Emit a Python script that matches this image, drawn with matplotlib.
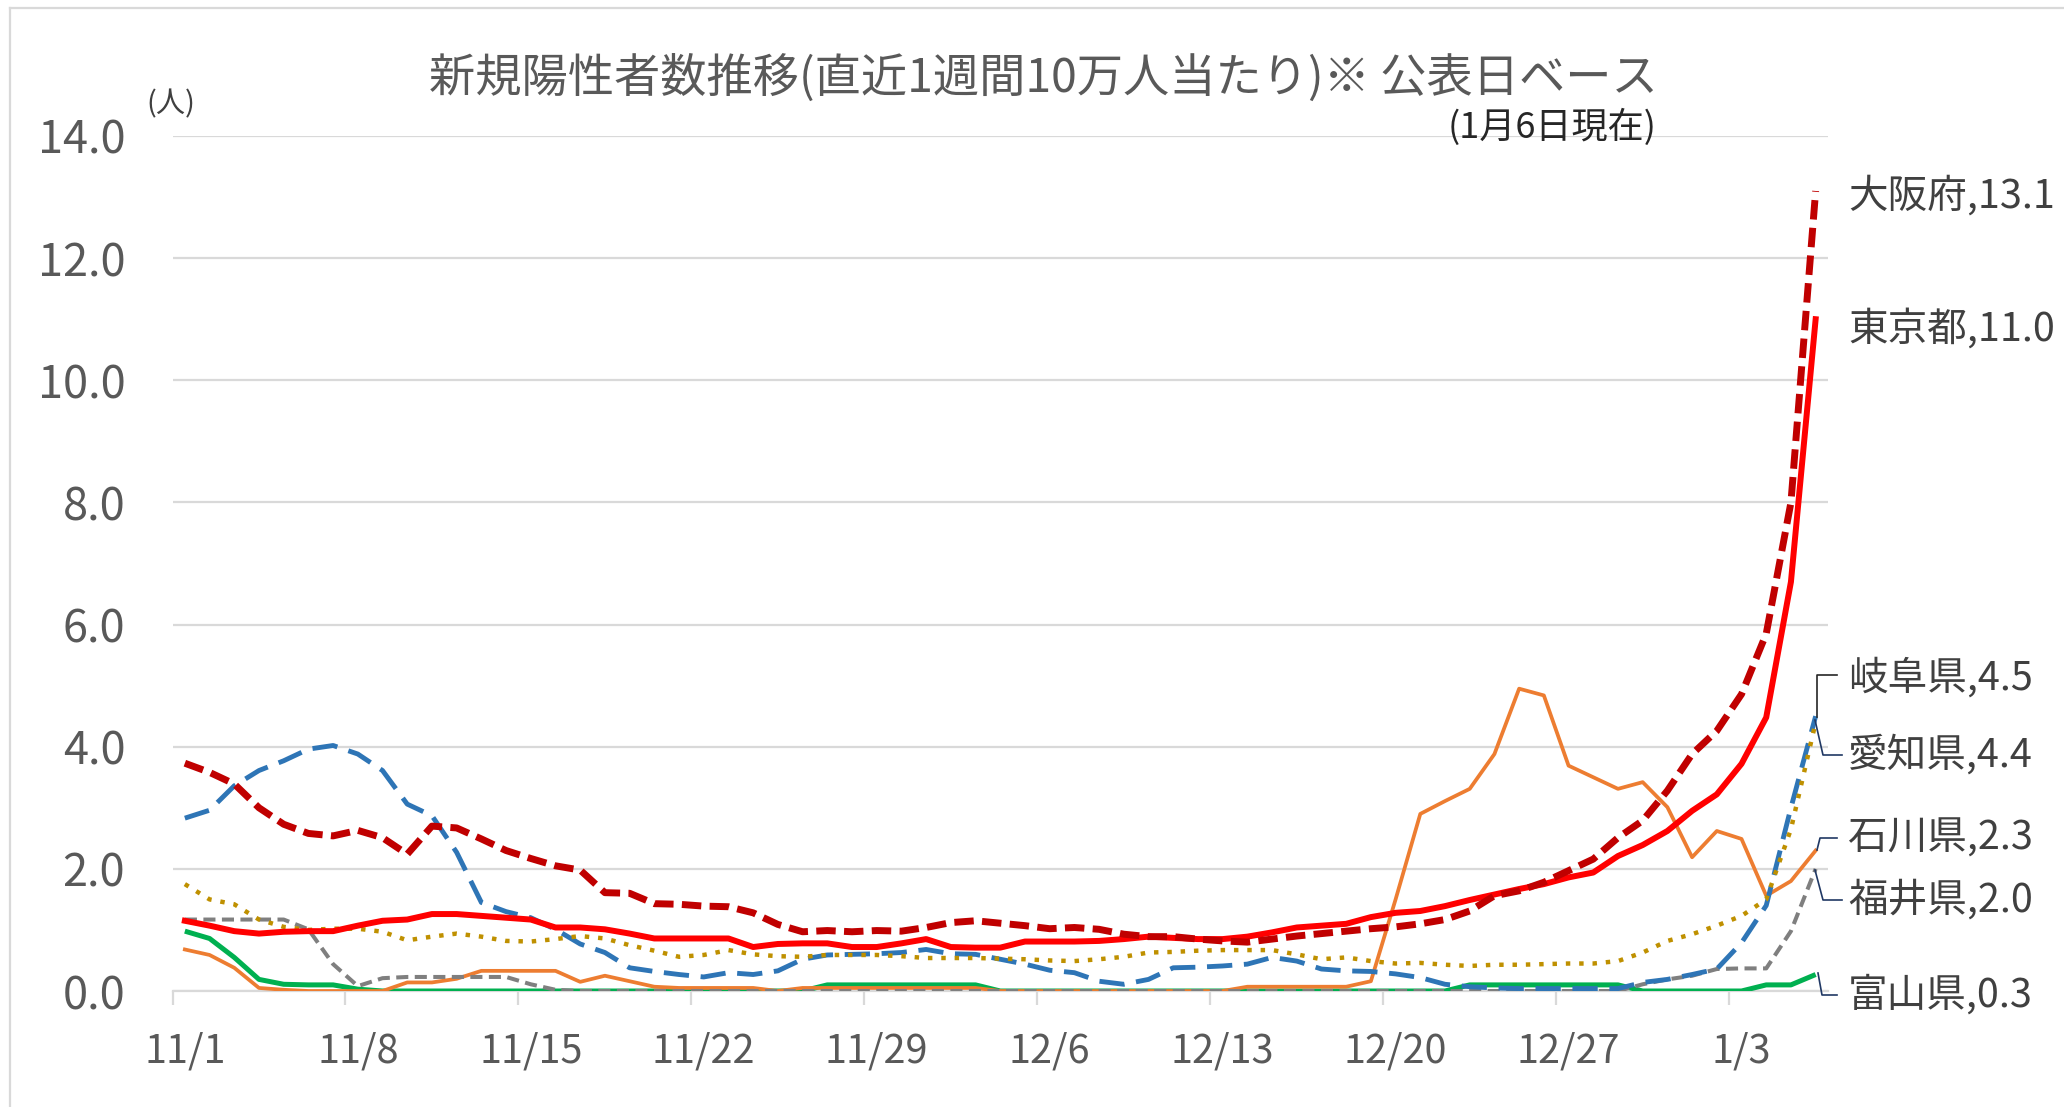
import numpy as np
import pandas as pd
import matplotlib
matplotlib.use("Agg")
import matplotlib.pyplot as plt
from matplotlib.lines import Line2D

plt.rcParams['font.family'] = ['Noto Sans CJK JP', 'DejaVu Sans']

# ---------------- data ----------------
dates = [f"{d.month}/{d.day}" for d in pd.date_range("2021-11-01", "2022-01-06")]

osaka = [3.73, 3.58, 3.39, 3.00, 2.73, 2.58, 2.54, 2.63, 2.51, 2.24,
         2.70, 2.67, 2.49, 2.30, 2.17, 2.05, 1.98, 1.61, 1.60, 1.43,
         1.42, 1.39, 1.38, 1.28, 1.09, 0.97, 0.99, 0.97, 0.99, 0.98,
         1.04, 1.12, 1.15, 1.11, 1.07, 1.02, 1.04, 1.01, 0.93, 0.89,
         0.89, 0.85, 0.82, 0.80, 0.85, 0.90, 0.94, 0.98, 1.02, 1.05,
         1.10, 1.17, 1.31, 1.56, 1.64, 1.78, 1.97, 2.16, 2.51, 2.79,
         3.28, 3.88, 4.26, 4.86, 5.85, 8.00, 13.1]
tokyo = [1.15, 1.07, 0.98, 0.94, 0.97, 0.98, 0.98, 1.07, 1.15, 1.17,
         1.26, 1.26, 1.23, 1.20, 1.17, 1.04, 1.04, 1.01, 0.94, 0.86,
         0.86, 0.86, 0.86, 0.72, 0.77, 0.78, 0.78, 0.72, 0.72, 0.78,
         0.85, 0.72, 0.71, 0.71, 0.81, 0.81, 0.81, 0.82, 0.85, 0.89,
         0.87, 0.85, 0.85, 0.89, 0.96, 1.04, 1.07, 1.10, 1.21, 1.28,
         1.31, 1.39, 1.49, 1.58, 1.67, 1.75, 1.86, 1.94, 2.21, 2.39,
         2.62, 2.95, 3.22, 3.72, 4.48, 6.70, 11.0]
gifu = [2.83, 2.96, 3.36, 3.61, 3.77, 3.96, 4.02, 3.88, 3.61, 3.06,
        2.87, 2.27, 1.45, 1.30, 1.20, 1.01, 0.77, 0.63, 0.38, 0.32,
        0.27, 0.23, 0.30, 0.27, 0.33, 0.52, 0.59, 0.60, 0.61, 0.63,
        0.68, 0.61, 0.60, 0.52, 0.44, 0.34, 0.30, 0.16, 0.11, 0.19,
        0.38, 0.39, 0.41, 0.44, 0.55, 0.49, 0.36, 0.33, 0.32, 0.28,
        0.22, 0.11, 0.07, 0.05, 0.04, 0.04, 0.04, 0.04, 0.04, 0.14,
        0.19, 0.27, 0.36, 0.79, 1.40, 3.00, 4.5]
aichi = [1.75, 1.50, 1.42, 1.17, 1.05, 1.00, 1.02, 1.02, 0.97, 0.83,
         0.89, 0.94, 0.89, 0.82, 0.81, 0.85, 0.90, 0.86, 0.75, 0.66,
         0.56, 0.59, 0.67, 0.60, 0.57, 0.56, 0.59, 0.59, 0.59, 0.57,
         0.54, 0.54, 0.54, 0.53, 0.52, 0.50, 0.49, 0.52, 0.56, 0.63,
         0.64, 0.66, 0.67, 0.67, 0.67, 0.60, 0.52, 0.55, 0.49, 0.45,
         0.46, 0.43, 0.41, 0.43, 0.43, 0.44, 0.45, 0.45, 0.49, 0.63,
         0.82, 0.93, 1.07, 1.23, 1.50, 2.65, 4.4]
ishikawa = [0.68, 0.59, 0.38, 0.05, 0.02, 0.00, 0.00, 0.00, 0.00, 0.14,
            0.14, 0.20, 0.33, 0.33, 0.33, 0.33, 0.15, 0.25, 0.16, 0.07,
            0.05, 0.05, 0.05, 0.05, 0.00, 0.05, 0.05, 0.05, 0.05, 0.05,
            0.05, 0.05, 0.05, 0.00, 0.00, 0.00, 0.00, 0.00, 0.00, 0.00,
            0.00, 0.00, 0.00, 0.07, 0.07, 0.07, 0.07, 0.07, 0.16, 1.50,
            2.90, 3.11, 3.31, 3.88, 4.95, 4.84, 3.69, 3.50, 3.31, 3.42,
            3.01, 2.19, 2.62, 2.49, 1.56, 1.80, 2.3]
fukui = [1.17, 1.17, 1.17, 1.17, 1.17, 1.01, 0.44, 0.08, 0.21, 0.23,
         0.23, 0.23, 0.23, 0.23, 0.11, 0.02, 0.00, 0.00, 0.00, 0.00,
         0.00, 0.00, 0.00, 0.00, 0.00, 0.00, 0.00, 0.00, 0.00, 0.00,
         0.00, 0.00, 0.00, 0.00, 0.00, 0.00, 0.00, 0.00, 0.00, 0.00,
         0.00, 0.00, 0.00, 0.00, 0.00, 0.00, 0.00, 0.00, 0.00, 0.00,
         0.00, 0.00, 0.00, 0.00, 0.00, 0.00, 0.00, 0.00, 0.00, 0.11,
         0.19, 0.25, 0.36, 0.37, 0.37, 0.98, 2.0]
toyama = [0.98, 0.86, 0.55, 0.19, 0.11, 0.10, 0.10, 0.03, 0.00, 0.00,
          0.00, 0.00, 0.00, 0.00, 0.00, 0.00, 0.00, 0.00, 0.00, 0.00,
          0.00, 0.00, 0.00, 0.00, 0.00, 0.00, 0.10, 0.10, 0.10, 0.10,
          0.10, 0.10, 0.10, 0.00, 0.00, 0.00, 0.00, 0.00, 0.00, 0.00,
          0.00, 0.00, 0.00, 0.00, 0.00, 0.00, 0.00, 0.00, 0.00, 0.00,
          0.00, 0.00, 0.10, 0.10, 0.10, 0.10, 0.10, 0.10, 0.10, 0.00,
          0.00, 0.00, 0.00, 0.00, 0.10, 0.10, 0.27]

label_names = ["大阪府", "東京都", "岐阜県", "愛知県", "石川県", "福井県", "富山県"]
label_values = ["13.1", "11.0", "4.5", "4.4", "2.3", "2.0", "0.3"]
y_ticks = [0, 2, 4, 6, 8, 10, 12, 14]
title = "新規陽性者数推移(直近1週間10万人当たり)※ 公表日ベース"
subtitle = "(1月6日現在)"
unit = "(人)"

# ---------------- figure ----------------
W, H, DPI = 2064, 1107, 100
fig = plt.figure(figsize=(W / DPI, H / DPI), dpi=DPI, facecolor="white")


def fx(x):
    return x / W


def fy(y):
    return 1 - y / H


ax = fig.add_axes([fx(172.5), fy(991), fx(1828) - fx(172.5), fy(136) - fy(991)])
x = np.arange(len(dates))

GRID = "#d9d9d9"
TXT = "#595959"

ax.plot(x, toyama, color="#00B050", lw=3.6, solid_capstyle="butt", zorder=3)
ax.plot(x, ishikawa, color="#ED7D31", lw=2.7, zorder=4)
ax.plot(x, fukui, color="#7F7F7F", lw=2.9, dashes=(3, 1.6), zorder=5)
ax.plot(x, gifu, color="#2E75B6", lw=3.5, dashes=(5.2, 2.4), zorder=6)
ax.plot(x, aichi, color="#BF9000", lw=3.2, dashes=(1, 2), zorder=7)
ax.plot(x, tokyo, color="#FF0000", lw=4.3, zorder=8)
ax.plot(x, osaka, color="#C00000", lw=5.0, dashes=(2.8, 1.2), zorder=9)

ax.set_xlim(-0.5, len(dates) - 0.5)
ax.set_ylim(0, 14)
ax.set_yticks(y_ticks)
ax.set_yticklabels([f"{v:.1f}" for v in y_ticks])
ax.yaxis.grid(True, color=GRID, lw=1.6)
ax.set_axisbelow(True)
for s in ["top", "left", "right"]:
    ax.spines[s].set_visible(False)
ax.spines["bottom"].set_color(GRID)
ax.spines["bottom"].set_linewidth(1.6)

ax.set_xticks(np.arange(-0.5, len(dates), 7))
ax.set_xticklabels([])
ax.set_xticks(np.arange(0, len(dates), 7), minor=True)
ax.set_xticklabels([dates[i] for i in range(0, len(dates), 7)], minor=True)
ax.tick_params(axis="x", which="major", length=10, width=1.6, color=GRID)
ax.tick_params(axis="x", which="minor", length=0, pad=29, labelsize=28.5, labelcolor=TXT)
ax.tick_params(axis="y", length=0, pad=34, labelsize=32.5, labelcolor=TXT)

# titles
fig.text(fx(1043), fy(79), title, fontsize=33.3, color=TXT, ha="center", va="center")
fig.text(fx(1657), fy(127), subtitle, fontsize=26, color="#262626", ha="right", va="center")
fig.text(fx(171), fy(104), unit, fontsize=21, color="#404040", ha="center", va="center")

# series labels
lab_y = [196, 329, 678, 755, 839, 900, 995]
for name, val, yy in zip(label_names, label_values, lab_y):
    fig.text(fx(1848), fy(yy), f"{name},{val}", fontsize=28.5, color="#404040",
             ha="left", va="center")

# leader lines
leaders = [
    ([1817, 1817, 1837], [717, 675, 675], "#262626"),
    ([1815, 1823, 1842], [720, 755, 755], "#203864"),
    ([1817, 1820, 1837], [850, 838, 838], "#203864"),
    ([1815, 1823, 1842], [870, 900, 900], "#203864"),
    ([1818, 1822, 1837], [973, 995, 995], "#203864"),
]
for xs, ys, c in leaders:
    fig.add_artist(Line2D([fx(v) for v in xs], [fy(v) for v in ys],
                          transform=fig.transFigure, color=c, lw=1.2))

# chart border
fig.add_artist(Line2D([fx(10), 1.0], [fy(8), fy(8)], transform=fig.transFigure, color=GRID, lw=1.6))
fig.add_artist(Line2D([fx(10), fx(10)], [fy(8), 0.0], transform=fig.transFigure, color=GRID, lw=1.6))

fig.savefig("out.png", dpi=DPI, facecolor="white")
